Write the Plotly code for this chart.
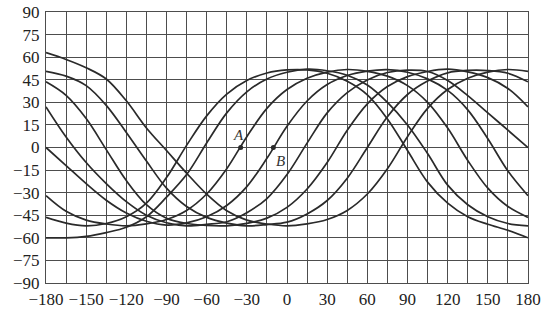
import plotly.graph_objects as go

# longitude samples (degrees) shared by every track piece
lon = [-180, -165, -150, -135, -120, -105, -90, -75, -60, -45, -30, -15, 0,
       15, 30, 45, 60, 75, 90, 105, 120, 135, 150, 165, 180]

# latitude of each wrap of the ground track
track_0 = [63, 58.5, 53, 45.5, 31, 13, -2, -17, -31, -42, -48.2, -50.8, -52,
           -50.7, -47.8, -41.8, -30.9, -14.1, 7.2, 26, 38.5, 46, 50.1, 51.8, 50.6]
track_1 = [50.6, 47.4, 41.1, 28, 10, -9, -27, -39.2, -46.4, -50.2, -52, -51.2, -49.6,
           -44.1, -35.2, -20.4, 0, 20.4, 35.2, 44.1, 49.6, 51.2, 51.1, 49.3, 43.6]
track_2 = [43.6, 34.6, 19.2, -1.4, -22, -38, -47, -50.5, -51.8, -52, -50.4, -46.9, -39.8,
           -27.6, -10, 11.5, 29, 40.5, 47.1, 50.5, 52, 50.2, 46.4, 39.2, 27]
track_3 = [27, 7, -10, -24, -36, -45, -50, -52, -51, -49.3, -43.3, -33.9, -18,
           2.9, 23, 36.5, 44.9, 49.8, 51.4, 50.5, 44.5, 34.5, 23, 11.5, 0]
track_4 = [0, -12, -24, -35, -43.5, -49, -51.5, -50.1, -46, -38.5, -26, -7.2, 14.1,
           30.9, 41.8, 47.8, 50.7, 51.7, 50, 45.6, 37.9, 25, 5.8, -15.6, -32]
track_5 = [-32, -42.4, -48.2, -50.8, -52, -50.7, -47.8, -41.8, -30.9, -14.1, 7.2, 26, 38.5,
           46, 50.1, 51.8, 50.6, 47.4, 41.1, 30, 12.9, -8.6, -27, -39.2, -46.4]
track_6 = [-46.4, -50.2, -52, -50.5, -46, -37, -20, 1.4, 21, 35.5, 44.5, 49.5, 51.5,
           51.5, 49.3, 44, 35, 19, -2, -23, -37, -46, -51, -55, -60]
track_7 = [-60, -60, -59, -56.5, -53, -46, -33, -18, 3, 23, 37, 45.5, 50,
           52, 51, 48, 41.5, 30, 15, -4, -25, -38, -46, -50.5, -52]

tracks = [track_0, track_1, track_2, track_3, track_4, track_5, track_6, track_7]

# marked points
pt_names = ["A", "B"]
pt_lon = [-34.6, -10.2]
pt_lat = [0, 0]

x_ticks = [-180, -150, -120, -90, -60, -30, 0, 30, 60, 90, 120, 150, 180]
y_ticks = [90, 75, 60, 45, 30, 15, 0, -15, -30, -45, -60, -75, -90]

ink = "#2a2a2a"
grid = "#4d4d4d"
font_family = "Liberation Serif, Times New Roman, serif"

fig = go.Figure()
for t in tracks:
    fig.add_trace(go.Scatter(x=lon, y=t, mode="lines",
                             line=dict(color=ink, width=1.7, shape="spline", smoothing=1.0),
                             showlegend=False, hoverinfo="skip"))

fig.add_trace(go.Scatter(x=pt_lon, y=pt_lat, mode="markers",
                         marker=dict(color=ink, size=5), showlegend=False))

fig.add_annotation(x=pt_lon[0], y=pt_lat[0], text="<i>" + pt_names[0] + "</i>", showarrow=False,
                   xshift=-2, yshift=13, font=dict(family=font_family, size=15, color="#333"))
fig.add_annotation(x=pt_lon[1], y=pt_lat[1], text="<i>" + pt_names[1] + "</i>", showarrow=False,
                   xshift=7, yshift=-13, font=dict(family=font_family, size=15, color="#333"))

fig.update_xaxes(range=[-180, 180], tickvals=x_ticks, automargin=False,
                 ticktext=[("\u2212" + str(-v)) if v < 0 else str(v) for v in x_ticks],
                 showgrid=True, gridcolor=grid, gridwidth=1.2,
                 minor=dict(dtick=15, showgrid=True, gridcolor=grid, gridwidth=1.2, tick0=-180),
                 showline=True, linecolor=grid, linewidth=1.2, mirror=True,
                 zeroline=False, ticks="", ticklabelstandoff=0,
                 tickfont=dict(family=font_family, size=17, color="#222"))
fig.update_yaxes(range=[-90, 90], tickvals=y_ticks, automargin=False,
                 ticktext=[("\u2212" + str(-v)) if v < 0 else str(v) for v in y_ticks],
                 showgrid=True, gridcolor=grid, gridwidth=1.2,
                 showline=True, linecolor=grid, linewidth=1.2, mirror=True,
                 zeroline=False, ticks="", ticklabelstandoff=2,
                 tickfont=dict(family=font_family, size=17, color="#222"))

fig.update_layout(width=541, height=309, margin=dict(l=46, r=13, t=12, b=26),
                  paper_bgcolor="white", plot_bgcolor="white")

fig.write_html("out.html")
